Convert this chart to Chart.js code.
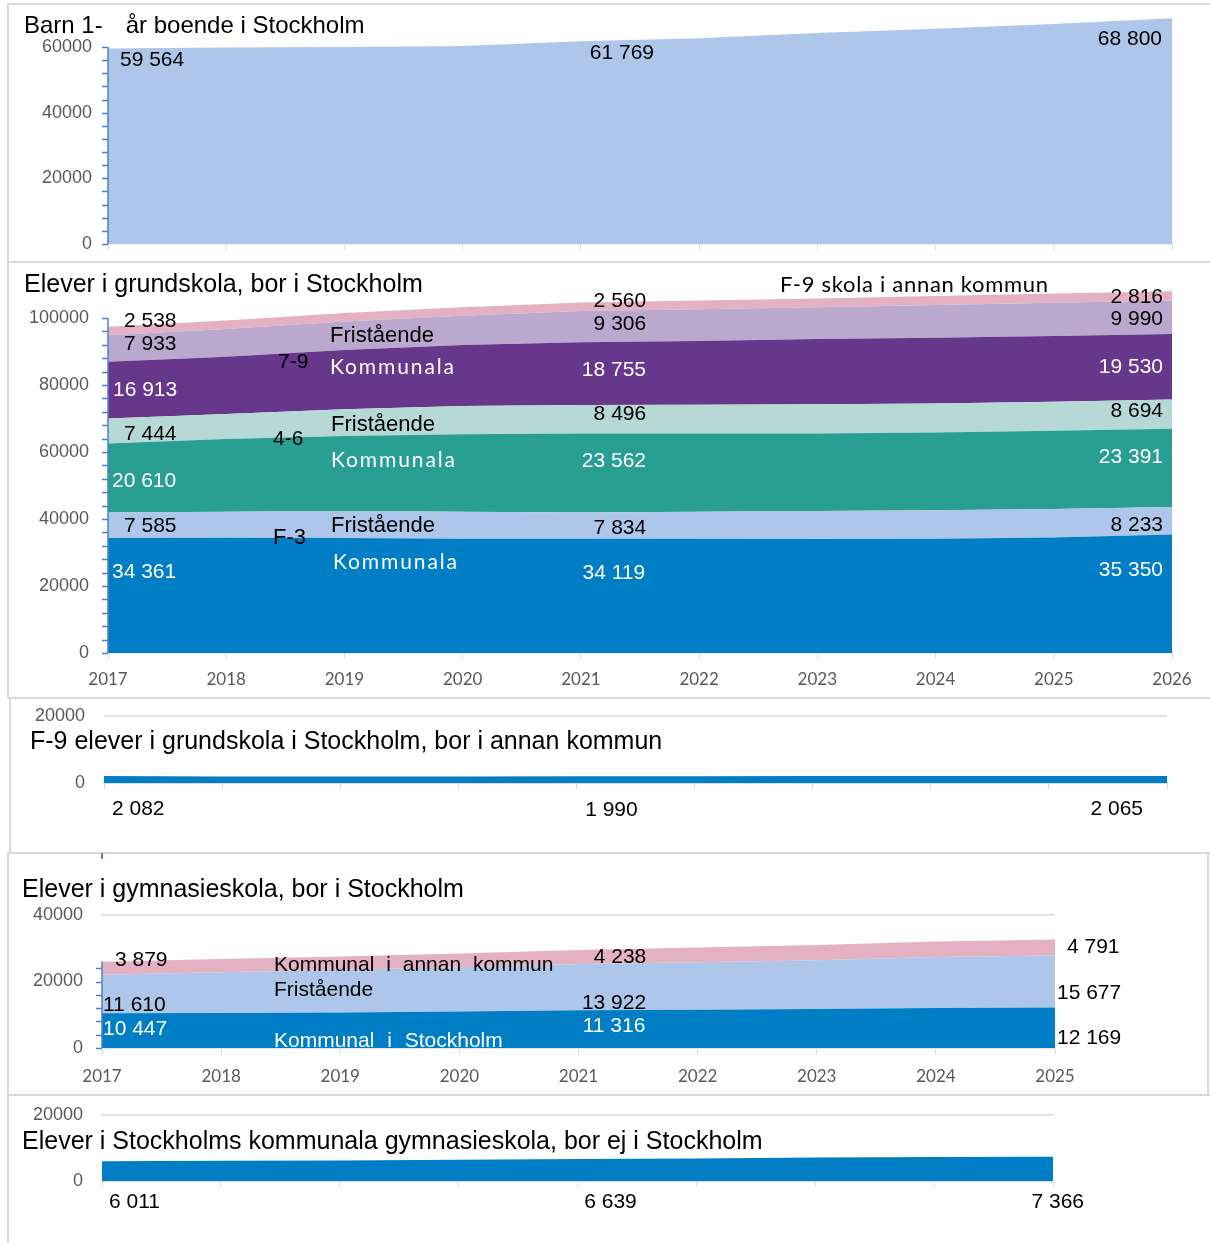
<!DOCTYPE html>
<html>
<head>
<meta charset="utf-8">
<script src="https://cdn.jsdelivr.net/npm/chart.js@4.4.1/dist/chart.umd.min.js"></script>
<style>
    body { margin: 0; background: #fff; width: 1210px; height: 1243px; position: relative; overflow: hidden;
           font-family: "Liberation Sans", Arial, sans-serif; }
    .box { position: absolute; border: 2px solid #d9d9d9; box-sizing: border-box; }
    canvas { position: absolute; left: 0; }
    .t { position: absolute; white-space: pre; line-height: 1; transform: translateY(-50%); color: #000; }
    .title { font-size: 25px; }
    .ann { font-size: 22px; }
    .kom { font-family: Lato, sans-serif; font-size: 21px; letter-spacing: 1.9px; color: #fff; }
    .white { color: #fff; }
</style>
</head>
<body>

<div class="box" style="left:7px;top:3px;width:1220px;height:260px"></div>
<div class="box" style="left:7px;top:261px;width:1220px;height:438px"></div>
<div class="box" style="left:9px;top:697px;width:1220px;height:157px"></div>
<div class="box" style="left:7px;top:852px;width:1202px;height:244px"></div>
<div class="box" style="left:7px;top:1094px;width:1220px;height:170px"></div>
<div style="position:absolute;left:101px;top:853px;width:2px;height:6px;background:#4f81c7"></div>

<canvas id="c1" width="1210" height="262" style="top:0"></canvas>
<canvas id="c2" width="1210" height="436" style="top:262px"></canvas>
<canvas id="c3" width="1210" height="155" style="top:698px"></canvas>
<canvas id="c4" width="1210" height="242" style="top:853px"></canvas>
<canvas id="c5" width="1210" height="148" style="top:1095px"></canvas>

<!-- rubriker -->
<div class="t title" style="left:24px;top:25px;font-size:24px">Barn 1-   <span style="margin-left:3px">år boende i Stockholm</span></div>
<div class="t title" style="left:24px;top:283px">Elever i grundskola, bor i Stockholm</div>
<div class="t title" style="left:30px;top:740px">F-9 elever i grundskola i Stockholm, bor i annan kommun</div>
<div class="t title" style="left:22px;top:888px">Elever i gymnasieskola, bor i Stockholm</div>
<div class="t title" style="left:22px;top:1140px">Elever i Stockholms kommunala gymnasieskola, bor ej i Stockholm</div>

<!-- grundskola: etiketter -->
<div class="t" style="left:780px;top:284px;font-family:Lato,sans-serif;font-size:22px;letter-spacing:0.7px">F-9 skola i annan kommun</div>
<div class="t ann" style="left:330px;top:335px">Fristående</div>
<div class="t kom" style="left:330px;top:365px">Kommunala</div>
<div class="t ann" style="left:278px;top:360px;font-size:21px">7-9</div>
<div class="t ann" style="left:331px;top:424px">Fristående</div>
<div class="t kom" style="left:331px;top:458px">Kommunala</div>
<div class="t ann" style="left:273px;top:437px;font-size:21px">4-6</div>
<div class="t ann" style="left:331px;top:525px">Fristående</div>
<div class="t kom" style="left:333px;top:560px">Kommunala</div>
<div class="t ann" style="left:273px;top:537px">F-3</div>

<!-- gymnasium: etiketter -->
<div class="t ann" style="left:274px;top:963px;font-size:21px;word-spacing:6px">Kommunal i annan kommun</div>
<div class="t ann" style="left:274px;top:988px;font-size:21px">Fristående</div>
<div class="t ann white" style="left:274px;top:1039px;font-size:21px;word-spacing:7px">Kommunal i Stockholm</div>

<script>
// ---- data ----
const years = ['2017', '2018', '2019', '2020', '2021', '2022', '2023', '2024', '2025', '2026'];
const gymYears = years.slice(0, 9);

const barn1 = [59564, 59850, 60000, 60300, 61769, 62700, 64300, 65600, 67000, 68800];

const f3Kommunala = [34361, 34400, 34300, 34100, 34119, 34100, 34050, 34100, 34500, 35350];
const f3Fristaende = [7585, 7800, 8100, 8100, 7834, 8100, 8350, 8500, 8500, 8233];
const m46Kommunala = [20610, 21700, 22400, 23100, 23562, 23300, 23150, 23200, 23350, 23391];
const m46Fristaende = [7444, 7450, 7950, 8400, 8496, 8600, 8700, 8650, 8650, 8694];
const h79Kommunala = [16913, 17100, 17700, 18250, 18755, 19030, 19480, 19670, 19630, 19530];
const h79Fristaende = [7933, 8300, 8500, 8700, 9306, 9470, 9470, 9780, 9920, 9990];
const f9AnnanKommun = [2538, 2540, 2550, 2560, 2560, 2600, 2650, 2700, 2760, 2816];

const f9BorAnnanKommun = [2082, 1950, 1950, 1960, 1990, 2000, 2100, 2100, 2080, 2065];

const gymKommunalSthlm = [10447, 10500, 10700, 11000, 11316, 11500, 11700, 12050, 12169];
const gymFristaende = [11610, 12300, 12800, 13300, 13922, 14300, 14700, 15300, 15677];
const gymAnnanKommun = [3879, 3950, 4000, 4100, 4238, 4400, 4600, 4700, 4791];

const gymBorEjSthlm = [6011, 6100, 6250, 6450, 6639, 6800, 7100, 7250, 7366];

const ticks60 = [0, 20000, 40000, 60000];
const ticks100 = [0, 20000, 40000, 60000, 80000, 100000];
const ticks20 = [0, 20000];
const ticks40 = [0, 20000, 40000];

// färger
const BLUE = '#007ec5';
const LIGHT_BLUE = '#adc6ea';
const TEAL = '#299e93';
const LIGHT_TEAL = '#b6d9d5';
const PURPLE = '#66378a';
const LIGHT_PURPLE = '#bba8cf';
const PINK = '#e4b1c2';

const fmt = v => String(v).replace(/\B(?=(\d{3})+(?!\d))/g, ' ');

// etiketter vid punkter: [dataset, index, dx, dy, align, färg]
function labelPlugin(items) {
    return {
        id: 'valueLabels',
        afterDatasetsDraw(chart) {
            const ctx = chart.ctx;
            ctx.save();
            ctx.font = '21px "Liberation Sans", Arial, sans-serif';
            ctx.textBaseline = 'middle';
            items.forEach(([ds, i, dx, dy, align, color]) => {
                const pt = chart.getDatasetMeta(ds).data[i];
                ctx.fillStyle = color;
                ctx.textAlign = align;
                ctx.fillText(fmt(chart.data.datasets[ds].data[i]), pt.x + dx, pt.y + dy);
            });
            ctx.restore();
        }
    };
}

// blå y-axel med små streck
function axisPlugin(top, step) {
    return {
        id: 'yAxisLine',
        afterDatasetsDraw(chart) {
            const y = chart.scales.y;
            const x = chart.chartArea.left;
            const ctx = chart.ctx;
            ctx.save();
            ctx.strokeStyle = '#4f81c7';
            ctx.lineWidth = 1.5;
            ctx.beginPath();
            ctx.moveTo(x, y.getPixelForValue(0));
            ctx.lineTo(x, y.getPixelForValue(top));
            for (let v = 0; v <= top; v += step) {
                const py = Math.round(y.getPixelForValue(v)) + 0.5;
                ctx.moveTo(x - 6, py);
                ctx.lineTo(x, py);
            }
            ctx.stroke();
            ctx.restore();
        }
    };
}

function makeChart(id, labels, series, opt, plugins) {
    return new Chart(document.getElementById(id), {
        type: 'line',
        data: {
            labels: labels,
            datasets: series.map((s, k) => ({
                data: s[0],
                backgroundColor: s[1],
                borderColor: 'rgba(0,0,0,0)',
                borderWidth: 0,
                pointRadius: 0,
                fill: k === 0 ? 'origin' : '-1',
                tension: 0
            }))
        },
        options: {
            responsive: false,
            animation: false,
            layout: { padding: { left: 0, top: opt.top, right: opt.right, bottom: 0 } },
            plugins: { legend: { display: false }, tooltip: { enabled: false } },
            scales: {
                x: {
                    grid: { display: true, drawOnChartArea: false, tickLength: 6, color: '#d9d9d9' },
                    border: { display: true, color: opt.xLine || '#d9d9d9', width: 1.5 },
                    ticks: {
                        display: !!opt.xLabels, color: '#595959', padding: opt.xPad || 0,
                        font: { family: 'Lato', size: 17 }, maxRotation: 0, autoSkip: false
                    },
                    afterFit: s => {
                        s.height = opt.xHeight;
                        s.paddingLeft = 0;
                        s.paddingRight = 0;
                    }
                },
                y: {
                    stacked: true,
                    min: 0,
                    max: opt.max,
                    grid: { display: !!opt.yGrid, drawTicks: false, color: '#d9d9d9', lineWidth: 1.5 },
                    border: { display: false },
                    ticks: {
                        color: '#595959', padding: opt.yPad,
                        font: { family: 'Liberation Sans', size: 18 },
                        callback: v => String(v)
                    },
                    afterBuildTicks: s => { s.ticks = opt.ticks.map(v => ({ value: v })); },
                    afterFit: s => {
                        s.width = opt.yWidth;
                        s.paddingTop = 0;
                        s.paddingBottom = 0;
                    }
                }
            }
        },
        plugins: plugins
    });
}

// 1. Barn 1-år
makeChart('c1', years, [[barn1, LIGHT_BLUE]],
    { top: 14.2, right: 38, max: 70000, xHeight: 18, yWidth: 108, yPad: 16, ticks: ticks60 },
    [axisPlugin(60000, 4000), labelPlugin([
        [0, 0, 12, 11.6, 'left', '#000'],
        [0, 4, 41, 12, 'center', '#000'],
        [0, 9, -10, 21, 'right', '#000']
    ])]);

// 2. Grundskola
const k = '#000', w = '#fff';
makeChart('c2', years, [
        [f3Kommunala, BLUE], [f3Fristaende, LIGHT_BLUE],
        [m46Kommunala, TEAL], [m46Fristaende, LIGHT_TEAL],
        [h79Kommunala, PURPLE], [h79Fristaende, LIGHT_PURPLE],
        [f9AnnanKommun, PINK]
    ],
    { top: 22.5, right: 38, max: 110000, xHeight: 45, xLabels: true, xPad: 10, yWidth: 108, yPad: 19, ticks: ticks100 },
    [axisPlugin(100000, 4000), labelPlugin([
        [6, 0, 16, -6, 'left', k], [5, 0, 16, 9, 'left', k], [4, 0, 5, 28, 'left', w],
        [3, 0, 16, 15.5, 'left', k], [2, 0, 4, 37.6, 'left', w], [1, 0, 16, 13.5, 'left', k],
        [0, 0, 4, 34, 'left', w],
        [6, 4, 39, -1.5, 'center', k], [5, 4, 39, 13, 'center', k], [4, 4, 33, 28, 'center', w],
        [3, 4, 39, 9, 'center', k], [2, 4, 33, 27.5, 'center', w], [1, 4, 39, 15.5, 'center', k],
        [0, 4, 33, 35, 'center', w],
        [6, 9, -9, 6, 'right', k], [5, 9, -9, 19, 'right', k], [4, 9, -9, 33, 'right', w],
        [3, 9, -9, 11.5, 'right', k], [2, 9, -9, 28.4, 'right', w], [1, 9, -9, 18, 'right', k],
        [0, 9, -9, 36, 'right', w]
    ])]);

// 3. F-9 bor i annan kommun
makeChart('c3', years, [[f9BorAnnanKommun, BLUE]],
    { top: 18, right: 43, max: 20000, xHeight: 70, xLine: '#c5d0dc', yWidth: 104, yPad: 19, yGrid: true, ticks: ticks20 },
    [labelPlugin([
        [0, 0, 8, 33.5, 'left', k],
        [0, 4, 35, 33.5, 'center', k],
        [0, 9, -24, 33.5, 'right', k]
    ])]);

// 4. Gymnasieskola
makeChart('c4', gymYears, [
        [gymKommunalSthlm, BLUE], [gymFristaende, LIGHT_BLUE], [gymAnnanKommun, PINK]
    ],
    { top: 62, right: 155, max: 40000, xHeight: 47, xLabels: true, xPad: 12, yWidth: 102, yPad: 19, yGrid: true, ticks: ticks40 },
    [axisPlugin(26000, 4000), labelPlugin([
        [2, 0, 13, -2, 'left', k], [1, 0, 1, 31, 'left', k], [0, 0, 1, 15.7, 'left', w],
        [2, 4, 41.5, 7, 'center', k], [1, 4, 35.5, 39, 'center', k], [0, 4, 35.5, 15.6, 'center', w],
        [2, 8, 12, 7.5, 'left', k], [1, 8, 2, 37.6, 'left', k], [0, 8, 2, 30.5, 'left', k]
    ])]);

// 5. Kommunal gymnasieskola, bor ej i Stockholm
makeChart('c5', gymYears, [[gymBorEjSthlm, BLUE]],
    { top: 20, right: 157, max: 20000, xHeight: 62, xLine: '#c5d0dc', yWidth: 102, yPad: 19, yGrid: true, ticks: ticks20 },
    [labelPlugin([
        [0, 0, 7, 41, 'left', k],
        [0, 4, 33, 43, 'center', k],
        [0, 8, 31, 45.5, 'right', k]
    ])]);
</script>
</body>
</html>
